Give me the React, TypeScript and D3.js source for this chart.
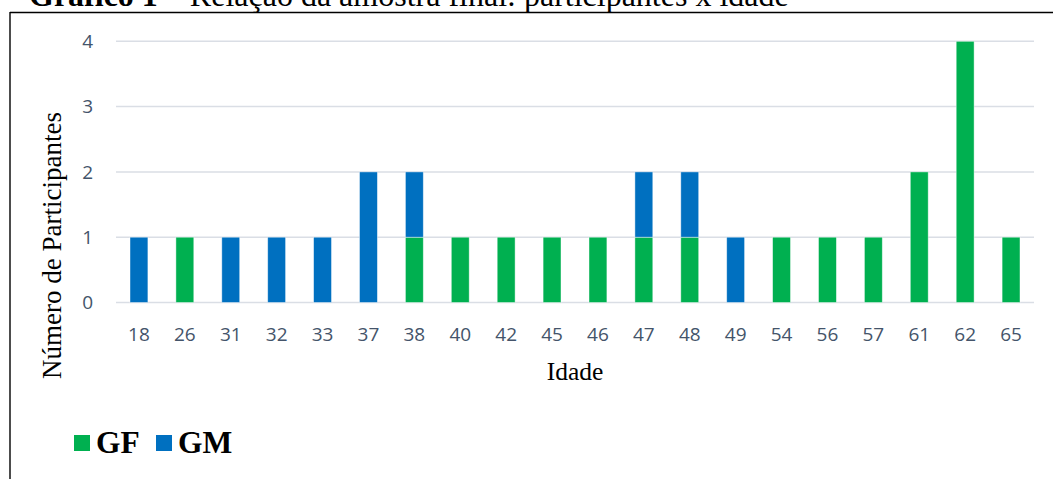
import React from "react";
import * as d3 from "d3";

const ages = ["18","26","31","32","33","37","38","40","42","45","46","47","48","49","54","56","57","61","62","65"];
const gf = [0,1,0,0,0,0,1,1,1,1,1,1,1,0,1,1,1,2,4,1];
const gm = [1,0,1,1,1,2,1,0,0,0,0,1,1,1,0,0,0,0,0,0];
const yTicks = [0,1,2,3,4];
const seriesNames = ["GF","GM"];
const seriesColors = ["#00b050","#0070c0"];

export default function App() {
  const W = 1053, H = 479;
  const x = d3.scaleBand<string>().domain(ages).range([116, 1034]).paddingInner(0.61).paddingOuter(0.305);
  const y = d3.scaleLinear().domain([0, 4]).range([302.5, 41.3]);
  const table = ages.map((a, i) => ({ age: a, GF: gf[i], GM: gm[i] }));
  const stacked = d3.stack<any>().keys(seriesNames)(table);
  const labelColor = "#44546a";
  const tickFont = "'Open Sans', sans-serif";
  const serif = "'Liberation Serif', 'Times New Roman', serif";
  return (
    <div style={{ position: "absolute", left: 0, top: 0 }}>
      <svg width={W} height={H} style={{ display: "block", background: "#fff" }}>
        <text x={29} y={6} fontFamily={serif} fontSize={32} fill="#000">
          <tspan fontWeight="bold">Gráfico 1</tspan> – Relação da amostra final: participantes x idade
        </text>
        <line x1={10} x2={W} y1={12.5} y2={12.5} stroke="#000" strokeWidth={1.4} />
        <line x1={10} x2={10} y1={12} y2={H} stroke="#000" strokeWidth={1.4} />
        {yTicks.map(t => (
          <g key={t}>
            <line x1={116} x2={1034} y1={y(t)} y2={y(t)} stroke="#dadee5" strokeWidth={1.5} />
            <text x={93} y={y(t)} dy="0.35em" textAnchor="end" fontFamily={tickFont} fontSize={19} fill={labelColor}>{t}</text>
          </g>
        ))}
        {stacked.map((s, si) => (
          <g key={s.key} fill={seriesColors[si]}>
            {s.map((d, i) => d[1] - d[0] > 0 ? (
              <rect key={i} x={x(ages[i])} width={x.bandwidth()} y={y(d[1])} height={y(d[0]) - y(d[1])}
                stroke="#ffffff" strokeOpacity={0.55} strokeWidth={0.8} />
            ) : null)}
          </g>
        ))}
        {ages.map(a => (
          <text key={a} x={(x(a) as number) + x.bandwidth() / 2} y={334} dy="0.35em" textAnchor="middle"
            fontFamily={tickFont} fontSize={19} fill={labelColor}>{a}</text>
        ))}
        <text x={575} y={380} textAnchor="middle" fontFamily={serif} fontSize={25.5} fill="#000">Idade</text>
        <text transform={`translate(61,245.5) rotate(-90)`} textAnchor="middle" fontFamily={serif} fontSize={27} fill="#000">Número de Participantes</text>
        {seriesNames.map((n, i) => (
          <g key={n} transform={`translate(${i === 0 ? 74 : 156},435)`}>
            <rect width={16} height={16} fill={seriesColors[i]} />
            <text x={22} y={18} fontFamily={serif} fontWeight="bold" fontSize={31.5} fill="#000">{n}</text>
          </g>
        ))}
      </svg>
    </div>
  );
}
